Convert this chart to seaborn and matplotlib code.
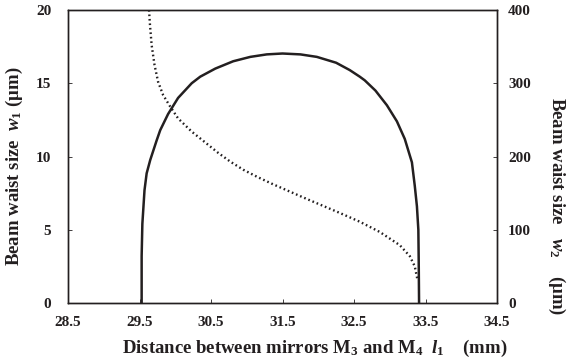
import numpy as np
import pandas as pd
import matplotlib
matplotlib.use("Agg")
import matplotlib.pyplot as plt
import seaborn as sns

# beam waist w1 (left axis, um)
l1_w1 = [29.53, 29.53, 29.54, 29.57, 29.60, 29.65, 29.74, 29.79, 29.90, 30.04,
         30.23, 30.35, 30.56, 30.81, 31.05, 31.28, 31.50, 31.75, 31.98, 32.25,
         32.44, 32.58, 32.65, 32.80, 32.96, 33.10, 33.21, 33.31, 33.35, 33.38,
         33.40, 33.405, 33.41]
w1 = [0.0, 3.2, 5.4, 7.7, 8.85, 9.76, 11.1, 11.8, 12.9, 14.0,
      15.0, 15.45, 16.0, 16.5, 16.8, 16.97, 17.03, 16.97, 16.8, 16.4,
      15.9, 15.45, 15.2, 14.5, 13.5, 12.4, 11.2, 9.6, 8.0, 6.6,
      5.0, 2.9, 0.0]

# beam waist w2 (right axis, um)
l1_w2 = [29.633, 29.647, 29.67, 29.71, 29.76, 29.83, 29.93, 30.04, 30.23, 30.46,
         30.60, 30.77, 30.95, 31.15, 31.37, 31.84, 32.30, 32.58, 32.86, 33.14,
         33.28, 33.35, 33.385]
w2 = [400, 379, 352, 325, 302, 284, 268, 252, 234, 216,
      205, 193, 182, 172, 162, 142, 123, 111, 97, 79,
      64, 50, 33]

x_ticks = [28.5, 29.5, 30.5, 31.5, 32.5, 33.5, 34.5]
y1_ticks = [0, 5, 10, 15, 20]
y2_ticks = [0, 100, 200, 300, 400]

sns.set_style("ticks")
plt.rcParams['font.family'] = ['Liberation Serif', 'DejaVu Serif']
plt.rcParams['font.weight'] = 'bold'
plt.rcParams['mathtext.fontset'] = 'custom'
plt.rcParams['mathtext.rm'] = 'Liberation Serif:bold'
plt.rcParams['mathtext.it'] = 'Liberation Serif:italic:bold'
plt.rcParams['mathtext.bf'] = 'Liberation Serif:bold'

ink = "#231f20"
fig = plt.figure(figsize=(5.67, 3.6), dpi=100)
ax = fig.add_axes([68 / 567, 1 - 303 / 360, 429 / 567, 293 / 360])
ax2 = ax.twinx()

df1 = pd.DataFrame({"l1": l1_w1, "w1": w1})
df2 = pd.DataFrame({"l1": l1_w2, "w2": w2})
sns.lineplot(data=df1, x="l1", y="w1", ax=ax, color=ink, lw=1.8,
             sort=False, estimator=None)
sns.lineplot(data=df2, x="l1", y="w2", ax=ax2, color=ink, lw=1.7,
             linestyle=(0, (0.7, 1.2)), sort=False, estimator=None)

ax.set_xlim(28.5, 34.5)
ax.set_ylim(0, 20)
ax2.set_ylim(0, 400)
ax.set_xticks(x_ticks)
ax.set_xticklabels([f"{t:.1f}" for t in x_ticks])
ax.set_yticks(y1_ticks)
ax2.set_yticks(y2_ticks)

for a in (ax, ax2):
    for s in a.spines.values():
        s.set_color(ink)
        s.set_linewidth(1.0)
ax.tick_params(axis="x", direction="in", length=3, width=0.6, pad=9,
               labelsize=11, colors=ink)
ax.tick_params(axis="y", direction="in", length=3, width=0.6, pad=12,
               labelsize=11, colors=ink)
ax2.tick_params(axis="y", direction="in", length=3, width=0.6, pad=8,
                labelsize=11, colors=ink)

ax.set_xlabel(r"Distance between mirrors M$_3$ and M$_4$  $\mathit{l}_1$    (mm)",
              fontsize=13.5, fontweight="bold", color=ink)
ax.xaxis.set_label_coords(0.574, -0.155)
ax.xaxis.label.set_va("center")

ax.set_ylabel(r"Beam waist size  $\mathit{w}_1$ ($\mathrm{\mu}$m)",
              fontsize=13.5, fontweight="bold", color=ink)
ax.yaxis.set_label_coords(-0.126, 0.468)
ax.yaxis.label.set_va("center")

ax2.set_ylabel(r"Beam waist size   $\mathit{w}_2$    ($\mathrm{\mu}$m)",
               fontsize=13.5, fontweight="bold", color=ink, rotation=270)
ax2.yaxis.set_label_coords(1.14, 0.33)
ax2.yaxis.label.set_va("center")

fig.savefig("out.png", dpi=100)
